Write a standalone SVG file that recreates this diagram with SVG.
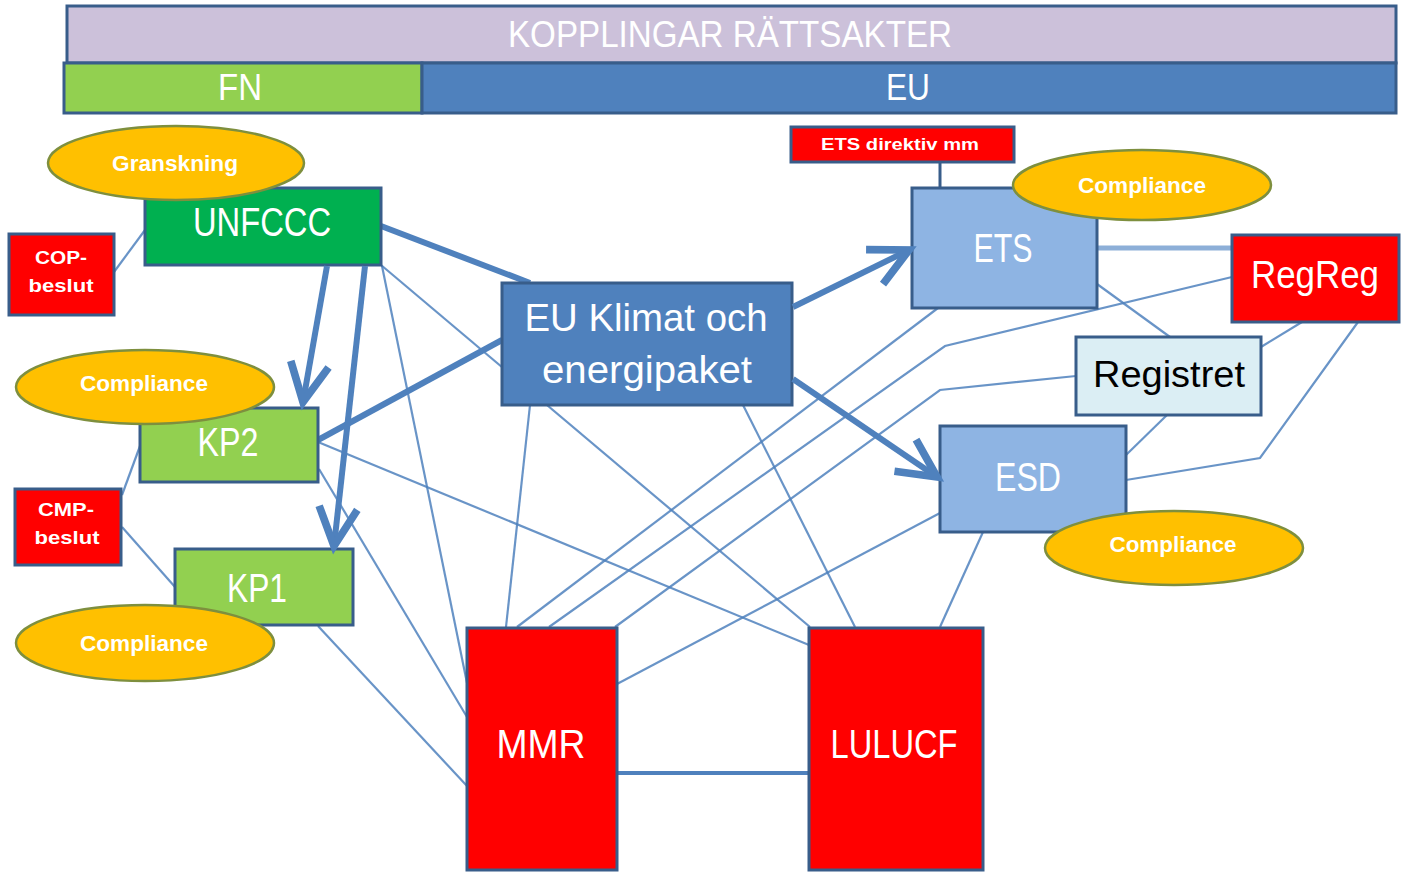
<svg xmlns="http://www.w3.org/2000/svg" width="1402" height="872" viewBox="0 0 1402 872">
<style>
.box{stroke:#385D8A;stroke-width:3}
.ell{fill:#FFC000;stroke:#7E8F3E;stroke-width:2.5}
.t{font-family:"Liberation Sans",Arial,sans-serif;fill:#FFFFFF;text-anchor:middle}
.tb{font-family:"Liberation Sans",Arial,sans-serif;fill:#FFFFFF;text-anchor:middle;font-weight:bold}
.thin{fill:none;stroke:#4F81BD;stroke-width:2.2;stroke-opacity:0.85}
.thick{fill:none;stroke:#4F81BD;stroke-width:6}
</style>
<defs>
<marker id="arr" viewBox="0 0 10 10" refX="9" refY="5" markerWidth="8" markerHeight="8" markerUnits="strokeWidth" orient="auto" overflow="visible">
<path d="M1,1 L9,5 L1,9" fill="none" stroke="#4F81BD" stroke-width="1.6"/>
</marker>
</defs>
<rect width="1402" height="872" fill="#FFFFFF"/>
<g id="header">
<rect class="box" x="67" y="6" width="1329" height="57" fill="#CCC1DA"/>
<text class="t" x="730" y="47" font-size="36" textLength="444" lengthAdjust="spacingAndGlyphs">KOPPLINGAR RÄTTSAKTER</text>
</g>
<g id="fn">
<rect class="box" x="64" y="63" width="358" height="50" fill="#92D050"/>
<text class="t" x="240" y="100" font-size="36" textLength="44" lengthAdjust="spacingAndGlyphs">FN</text>
</g>
<g id="eu">
<rect class="box" x="422" y="63" width="974" height="50" fill="#4F81BD"/>
<text class="t" x="908" y="100" font-size="36" textLength="44" lengthAdjust="spacingAndGlyphs">EU</text>
</g>
<g id="connectors">
<path class="thin" d="M114,272 L145,230"/>
<path class="thin" d="M140,446 L122,495"/>
<path class="thin" d="M122,527 L175,587"/>
<path class="thin" d="M381,265 L810,627"/>
<path class="thin" d="M382,266 L467,683"/>
<path class="thin" d="M319,469 L467,717"/>
<path class="thin" d="M318,626 L467,786"/>
<path class="thin" d="M318,442 L809,645"/>
<path class="thin" d="M530,405 L506,627"/>
<path class="thin" d="M743,405 L855,627"/>
<path class="thin" d="M517,627 L938,308"/>
<path class="thin" d="M549,627 L945,346 L1232,277"/>
<path class="thin" d="M615,627 L940,390 L1076,376"/>
<path class="thin" d="M617,684 L940,513"/>
<path class="thin" d="M983,532 L940,627"/>
<path class="thin" d="M1097,284 L1170,337"/>
<path class="thin" d="M1302,322 L1261,347"/>
<path class="thin" d="M1358,322 L1260,458 L1126,480"/>
<path class="thin" d="M1167,415 L1126,455"/>
<path d="M617,773 L809,773" fill="none" stroke="#4F81BD" stroke-width="4"/>
<path d="M940,162 L940,188" fill="none" stroke="#385D8A" stroke-width="3"/>
<path d="M1097,248 L1232,248" fill="none" stroke="#8DAFD8" stroke-width="5"/>
<path class="thick" d="M381,226 L530,283" stroke-width="5"/>
<path class="thick" d="M318,440 L502,340" stroke-width="5"/>
</g>
<g id="unfccc">
<rect class="box" x="145" y="188" width="236" height="77" fill="#00B050"/>
<text class="t" x="262" y="236" font-size="40" textLength="138" lengthAdjust="spacingAndGlyphs">UNFCCC</text>
</g>
<g id="granskning">
<ellipse class="ell" cx="176" cy="163" rx="128" ry="37"/>
<text class="tb" x="175" y="171" font-size="22" textLength="126" lengthAdjust="spacingAndGlyphs">Granskning</text>
</g>
<g id="cop-beslut">
<rect class="box" x="9" y="234" width="105" height="81" fill="#FF0000"/>
<text class="tb" x="61" y="264" font-size="18" textLength="52" lengthAdjust="spacingAndGlyphs">COP-</text>
<text class="tb" x="61" y="292" font-size="18" textLength="65" lengthAdjust="spacingAndGlyphs">beslut</text>
</g>
<g id="kp2">
<rect class="box" x="140" y="408" width="178" height="74" fill="#92D050"/>
<text class="t" x="228" y="456" font-size="40" textLength="61" lengthAdjust="spacingAndGlyphs">KP2</text>
</g>
<g id="kp2-compliance">
<ellipse class="ell" cx="145" cy="387" rx="129" ry="37"/>
<text class="tb" x="144" y="391" font-size="22" textLength="128" lengthAdjust="spacingAndGlyphs">Compliance</text>
</g>
<g id="cmp-beslut">
<rect class="box" x="15" y="489" width="106" height="76" fill="#FF0000"/>
<text class="tb" x="66" y="516" font-size="18" textLength="56" lengthAdjust="spacingAndGlyphs">CMP-</text>
<text class="tb" x="67" y="544" font-size="18" textLength="65" lengthAdjust="spacingAndGlyphs">beslut</text>
</g>
<g id="kp1">
<rect class="box" x="175" y="549" width="178" height="76" fill="#92D050"/>
<text class="t" x="257" y="602" font-size="40" textLength="60" lengthAdjust="spacingAndGlyphs">KP1</text>
</g>
<g id="kp1-compliance">
<ellipse class="ell" cx="145" cy="643" rx="129" ry="38"/>
<text class="tb" x="144" y="651" font-size="22" textLength="128" lengthAdjust="spacingAndGlyphs">Compliance</text>
</g>
<g id="eu-klimat">
<rect class="box" x="502" y="283" width="290" height="122" fill="#4F81BD"/>
<text class="t" x="646" y="331" font-size="38" textLength="243" lengthAdjust="spacingAndGlyphs">EU Klimat och</text>
<text class="t" x="647" y="383" font-size="38" textLength="210" lengthAdjust="spacingAndGlyphs">energipaket</text>
</g>
<g id="ets-direktiv">
<rect class="box" x="791" y="127" width="223" height="35" fill="#FF0000"/>
<text class="tb" x="900" y="150" font-size="16" textLength="158" lengthAdjust="spacingAndGlyphs">ETS direktiv mm</text>
</g>
<g id="ets">
<rect class="box" x="912" y="188" width="185" height="120" fill="#8EB4E3"/>
<text class="t" x="1003" y="262" font-size="40" textLength="59" lengthAdjust="spacingAndGlyphs">ETS</text>
</g>
<g id="ets-compliance">
<ellipse class="ell" cx="1142" cy="185" rx="129" ry="35"/>
<text class="tb" x="1142" y="193" font-size="22" textLength="128" lengthAdjust="spacingAndGlyphs">Compliance</text>
</g>
<g id="regreg">
<rect class="box" x="1232" y="235" width="167" height="87" fill="#FF0000"/>
<text class="t" x="1315" y="288" font-size="38" textLength="128" lengthAdjust="spacingAndGlyphs">RegReg</text>
</g>
<g id="registret">
<rect class="box" x="1076" y="337" width="185" height="78" fill="#DBEEF4"/>
<text class="t" x="1169" y="387" font-size="37" style="fill:#000000" textLength="152" lengthAdjust="spacingAndGlyphs">Registret</text>
</g>
<g id="esd">
<rect class="box" x="940" y="426" width="186" height="106" fill="#8EB4E3"/>
<text class="t" x="1028" y="491" font-size="40" textLength="66" lengthAdjust="spacingAndGlyphs">ESD</text>
</g>
<g id="esd-compliance">
<ellipse class="ell" cx="1174" cy="548" rx="129" ry="37"/>
<text class="tb" x="1173" y="552" font-size="22" textLength="127" lengthAdjust="spacingAndGlyphs">Compliance</text>
</g>
<g id="mmr">
<rect class="box" x="467" y="628" width="150" height="242" fill="#FF0000"/>
<text class="t" x="541" y="758" font-size="40" textLength="89" lengthAdjust="spacingAndGlyphs">MMR</text>
</g>
<g id="lulucf">
<rect class="box" x="809" y="628" width="174" height="242" fill="#FF0000"/>
<text class="t" x="894" y="758" font-size="40" textLength="127" lengthAdjust="spacingAndGlyphs">LULUCF</text>
</g>
<g id="arrows">
<path class="thick" d="M327,266 L303,402" marker-end="url(#arr)"/>
<path class="thick" d="M365,266 L334,546" marker-end="url(#arr)"/>
<path class="thick" d="M793,307 L909,250" marker-end="url(#arr)"/>
<path class="thick" d="M793,379 L937,477" marker-end="url(#arr)"/>
</g>
</svg>
